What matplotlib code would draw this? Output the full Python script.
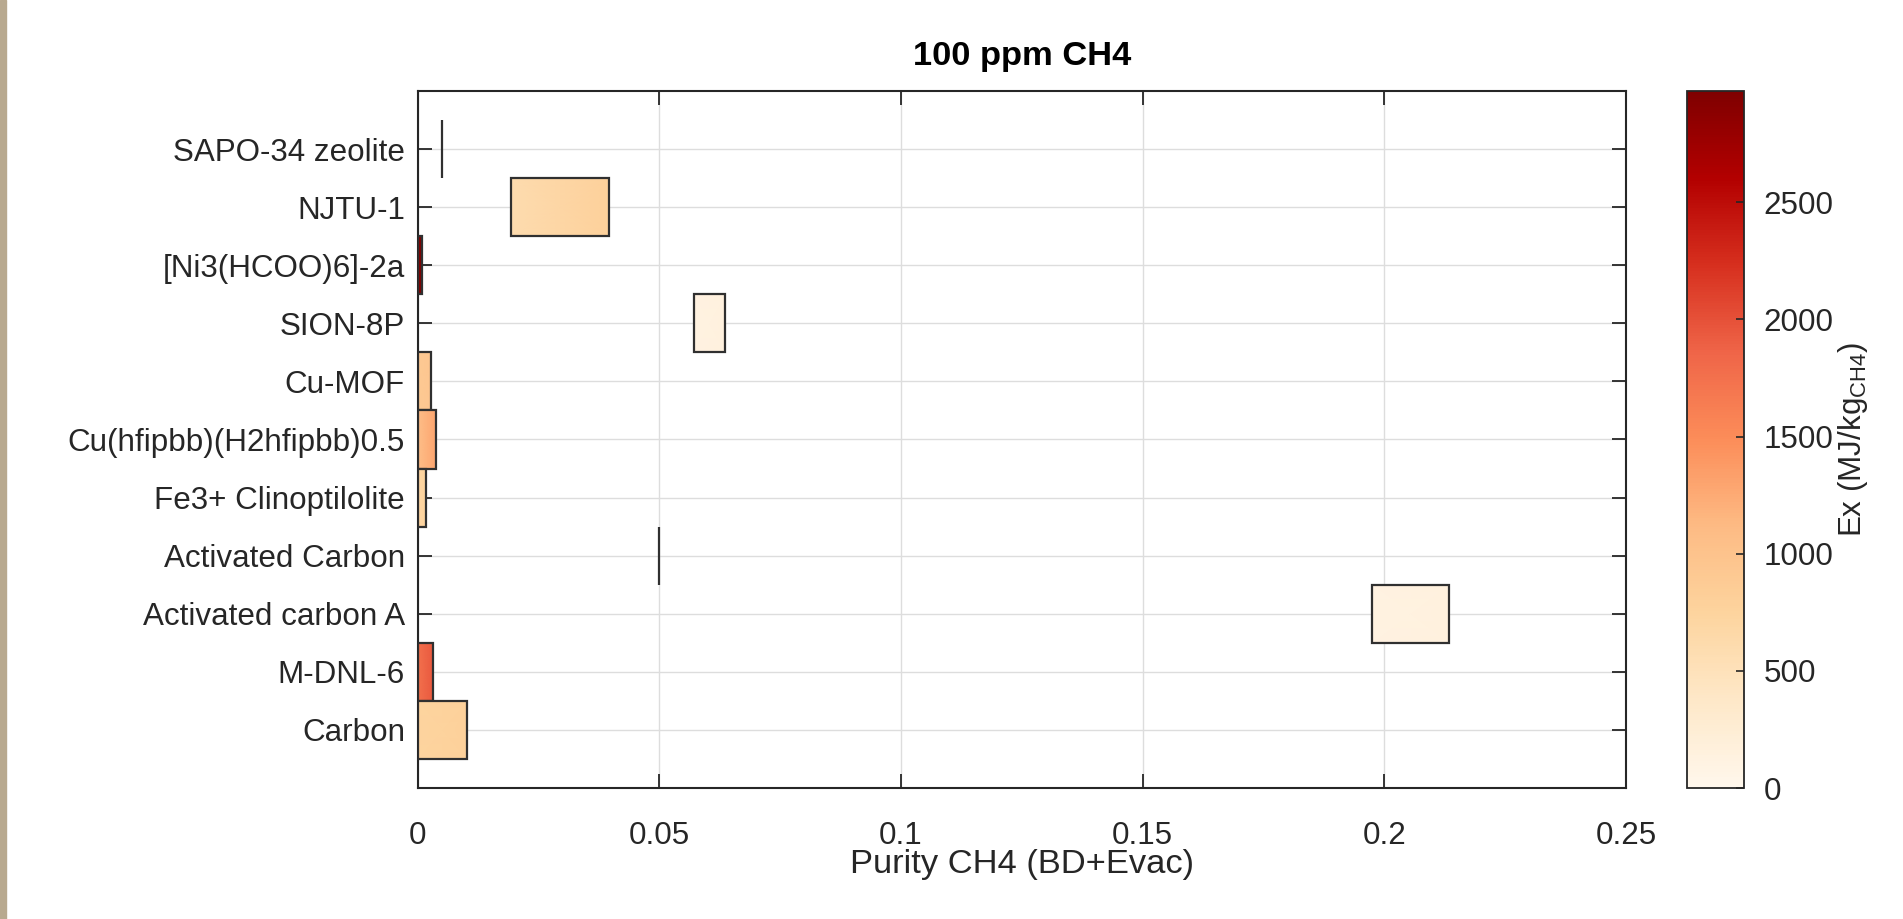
import numpy as np
import matplotlib
matplotlib.use('Agg')
import matplotlib.pyplot as plt
from matplotlib import font_manager
from matplotlib.patches import Rectangle
from matplotlib.colors import Normalize
from matplotlib.cm import ScalarMappable

# ---------------- data ----------------
materials = ['SAPO-34 zeolite', 'NJTU-1', '[Ni3(HCOO)6]-2a', 'SION-8P', 'Cu-MOF',
             'Cu(hfipbb)(H2hfipbb)0.5', 'Fe3+ Clinoptilolite', 'Activated Carbon',
             'Activated carbon A', 'M-DNL-6', 'Carbon']
purity_min = [0.0050, 0.0193, 0.0000, 0.0571, 0.0000, 0.0000, 0.0000, 0.0500, 0.1975, 0.0000, 0.0000]
purity_max = [0.0050, 0.0396, 0.0009, 0.0636, 0.0028, 0.0038, 0.0018, 0.0500, 0.2133, 0.0033, 0.0102]
ex_at_min = [300, 600, 2900, 120, 900, 1050, 700, 100, 120, 1750, 740]
ex_at_max = [300, 800, 2975, 150, 950, 1300, 760, 100, 140, 1950, 780]
ex_max = 2975
xticks = [0, 0.05, 0.1, 0.15, 0.2, 0.25]
xticklabels = ['0', '0.05', '0.1', '0.15', '0.2', '0.25']
cbar_ticks = [0, 500, 1000, 1500, 2000, 2500]
title = '100 ppm CH4'
xlabel = 'Purity CH4 (BD+Evac)'
cbar_label = r'Ex (MJ/kg$_{\mathregular{CH4}}$)'

# ---------------- fonts ----------------
names = {f.name for f in font_manager.fontManager.ttflist}
if 'Liberation Sans Narrow' in names:
    fam = ['Liberation Sans Narrow', 'DejaVu Sans']
    k = 1.0 / 0.82
else:
    fam = ['Liberation Sans', 'DejaVu Sans']
    k = 1.0
plt.rcParams['font.family'] = fam
plt.rcParams['mathtext.fontset'] = 'custom'
plt.rcParams['mathtext.rm'] = fam[0]
base = 22.6 * k
big = 24.8 * k

W, H = 1903, 919
fig = plt.figure(figsize=(W / 100, H / 100), dpi=100)
fig.patch.set_facecolor('white')
fig.patches.append(Rectangle((0, 0), 6 / W, 1, transform=fig.transFigure,
                             color='#b8a98f', zorder=0))

ax_l, ax_r, ax_t, ax_b = 417.5, 1626, 91, 788
ax = fig.add_axes([ax_l / W, 1 - ax_b / H, (ax_r - ax_l) / W, (ax_b - ax_t) / H])

cmap = plt.get_cmap('OrRd')
norm = Normalize(vmin=0, vmax=ex_max)
n = len(materials)
ypos = [n - i for i in range(n)]
h = 1.0

for i in range(n):
    l, r, y = purity_min[i], purity_max[i], ypos[i]
    if r > l:
        X = np.array([[l, r], [l, r]])
        Y = np.array([[y - h / 2, y - h / 2], [y + h / 2, y + h / 2]])
        C = np.array([[ex_at_min[i], ex_at_max[i]], [ex_at_min[i], ex_at_max[i]]])
        ax.pcolormesh(X, Y, C, shading='gouraud', cmap=cmap, norm=norm, zorder=3 + 2 * i)
    ax.add_patch(Rectangle((l, y - h / 2), r - l, h, fill=False, ec='#303030',
                           lw=1.6, zorder=4 + 2 * i))

ax.set_xlim(0, 0.25)
ax.set_ylim(0, n + 1)
ax.set_xticks(xticks)
ax.set_xticklabels(xticklabels)
ax.set_yticks(ypos)
ax.set_yticklabels(materials)
ax.grid(True, color='#dddddd', lw=1.0, zorder=0)
ax.set_axisbelow(True)
for s in ax.spines.values():
    s.set_color('#262626')
    s.set_linewidth(1.5)
ax.tick_params(axis='both', direction='in', length=10, width=1.3, top=True, right=True,
               colors='#262626', labelsize=base)
ax.tick_params(axis='x', pad=24)
ax.tick_params(axis='y', pad=9)

ax.set_title(title, fontsize=big, fontweight='bold', y=1 + 34 / (ax_b - ax_t),
             va='center', pad=0)
ax.set_xlabel(xlabel, fontsize=big, color='#262626', va='center')
ax.xaxis.set_label_coords(0.5, -(865 - ax_b) / (ax_b - ax_t))

# ---------------- colorbar ----------------
cb_l, cb_r = 1687, 1744
cax = fig.add_axes([cb_l / W, 1 - ax_b / H, (cb_r - cb_l) / W, (ax_b - ax_t) / H])
sm = ScalarMappable(norm=norm, cmap=cmap)
cb = fig.colorbar(sm, cax=cax, ticks=cbar_ticks)
cb.ax.tick_params(direction='in', length=6, width=1.2, colors='#262626',
                  labelsize=base, pad=14)
cb.outline.set_edgecolor('#262626')
cb.outline.set_linewidth(1.3)
cb.set_label(cbar_label, fontsize=base, color='#262626', rotation=90,
             ha='center', va='center')
cb.ax.yaxis.set_label_coords((1853 - cb_l) / (cb_r - cb_l), 0.5)

fig.savefig('out.png', dpi=100)
